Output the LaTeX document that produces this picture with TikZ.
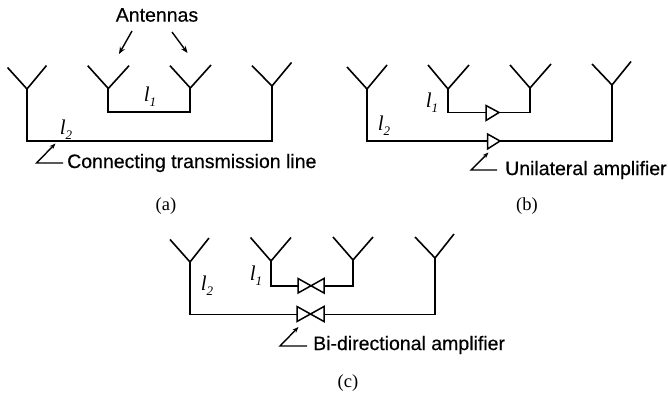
\documentclass[tikz,border=0pt]{standalone}
\usepackage{fontspec}
\setmainfont{Liberation Serif}
\newfontfamily\labfont[FakeBold=0.4]{Liberation Sans}
\usetikzlibrary{arrows.meta}
\tikzset{
  wire/.style={line width=1.9pt,line cap=rect,line join=miter},
  arm/.style={line width=1.6pt,line cap=butt},
  amp/.style={line width=1.5pt,line join=miter,fill=white},
  leader/.style={line width=1.4pt,-{Stealth[length=6pt,width=4.5pt]}},
  pointer/.style={line width=1.4pt,-{Stealth[length=7pt,width=5.5pt]}},
  lab/.style={font=\labfont\fontsize{19.5}{21}\selectfont,anchor=west,inner sep=0pt},
  head/.style={font=\labfont\fontsize{19.5}{21}\selectfont,inner sep=0pt},
  captext/.style={font=\fontsize{18.5}{21}\selectfont,inner sep=0pt},
  lentext/.style={font=\fontsize{21}{24}\selectfont\itshape,inner sep=0pt}
}
% name, junction x,y, left tip x,y, right tip x,y, foot y
\newcommand{\antenna}[8]{%
  \coordinate (#1j) at (#2,#3);
  \coordinate (#1l) at (#4,#5);
  \coordinate (#1r) at (#6,#7);
  \coordinate (#1f) at (#2,#8);
  \draw[arm] (#1l) -- (#1j) -- (#1r);
}
\newcommand{\lenlabel}[4]{\node[lentext] (#1) at (#2,#3) {l\raisebox{-0.25em}{\fontsize{13}{14}\selectfont #4}};}
\begin{document}
\begin{tikzpicture}[x=1pt,y=-1pt]
\useasboundingbox (0,0) rectangle (668,399);
% ---------- (a)
\antenna{aA}{27}{89}{7.5}{67.5}{46.5}{65.5}{141}
\antenna{aB}{108.3}{88.5}{87.7}{65.7}{129}{65.7}{112}
\antenna{aC}{190.3}{88}{170}{65.7}{211}{65}{112}
\antenna{aD}{272}{86}{252}{65.7}{291.5}{62.5}{141}
\draw[wire] (aAj) -- (aAf) -- (aDf) -- (aDj);
\draw[wire] (aBj) -- (aBf) -- (aCf) -- (aCj);
\lenlabel{al1}{150}{97}{1}
\lenlabel{al2}{66}{130}{2}
\node[head] (ant) at (157,15) {Antennas};
\coordinate (antA) at (132,31); \coordinate (antAt) at (119,54);
\coordinate (antB) at (172,32); \coordinate (antBt) at (187.5,53);
\draw[pointer] (antA) -- (antAt);
\draw[pointer] (antB) -- (antBt);
\node[lab] (aT) at (67,163) {Connecting transmission line};
\coordinate (aL) at (36.5,163); \coordinate (aLt) at (55.5,143.5);
\draw[leader] (aT.west) ++(-4,0) -- (aL) -- (aLt);
\node[captext] (capa) at (166,206) {(a)};
% ---------- (b)
\antenna{bA}{367}{89}{347}{67}{387}{65}{141}
\antenna{bB}{448}{89}{428}{65}{469}{65}{112.5}
\antenna{bC}{530}{88}{510}{65}{551}{64}{112.5}
\antenna{bD}{612}{85}{592}{64}{631}{61.5}{141}
\coordinate (bU1) at (486,112.5); \coordinate (bU2) at (499,112.5);
\coordinate (bV1) at (487.5,141); \coordinate (bV2) at (500,141);
\draw[wire] (bAj) -- (bAf) -- (bV1);
\draw[wire] (bV2) -- (bDf) -- (bDj);
\draw[wire] (bBj) -- (bBf) -- (bU1);
\draw[wire] (bU2) -- (bCf) -- (bCj);
\draw[amp] (486,105.5) -- (bU2) -- (486,120.5) -- cycle;
\draw[amp] (487.5,134) -- (bV2) -- (487.5,149) -- cycle;
\lenlabel{bl1}{432}{103}{1}
\lenlabel{bl2}{384}{126}{2}
\node[lab] (bT) at (505,170) {Unilateral amplifier};
\coordinate (bL) at (471,170); \coordinate (bLt) at (488.5,152.5);
\draw[leader] (bT.west) ++(-8,0) -- (bL) -- (bLt);
\node[captext] (capb) at (527,206) {(b)};
% ---------- (c)
\antenna{cA}{190}{262}{170}{239.5}{209}{238}{314.5}
\antenna{cB}{271}{261}{250.5}{237.5}{291}{237.5}{286}
\antenna{cC}{353}{260}{333}{237}{373}{237}{286}
\antenna{cD}{435}{258}{415}{237}{454}{234}{314.5}
\coordinate (cU1) at (298,286); \coordinate (cU2) at (324,286);
\coordinate (cV1) at (297,314.5); \coordinate (cV2) at (324,314.5);
\draw[wire] (cAj) -- (cAf) -- (cV1);
\draw[wire] (cV2) -- (cDf) -- (cDj);
\draw[wire] (cBj) -- (cBf) -- (cU1);
\draw[wire] (cU2) -- (cCf) -- (cCj);
\draw[amp] (298,278.5) -- (324,293) -- (324,278.5) -- (298,293) -- cycle;
\draw[amp] (297,306.5) -- (324,321.5) -- (324,306.5) -- (297,321.5) -- cycle;
\lenlabel{cl1}{256}{276}{1}
\lenlabel{cl2}{207}{286}{2}
\node[lab] (cT) at (313,345) {Bi-directional amplifier};
\coordinate (cL) at (280,346); \coordinate (cLt) at (298.5,327);
\draw[leader] (cT.west) ++(-6,1) -- (cL) -- (cLt);
\node[captext] (capc) at (348,383) {(c)};
\end{tikzpicture}
\end{document}
